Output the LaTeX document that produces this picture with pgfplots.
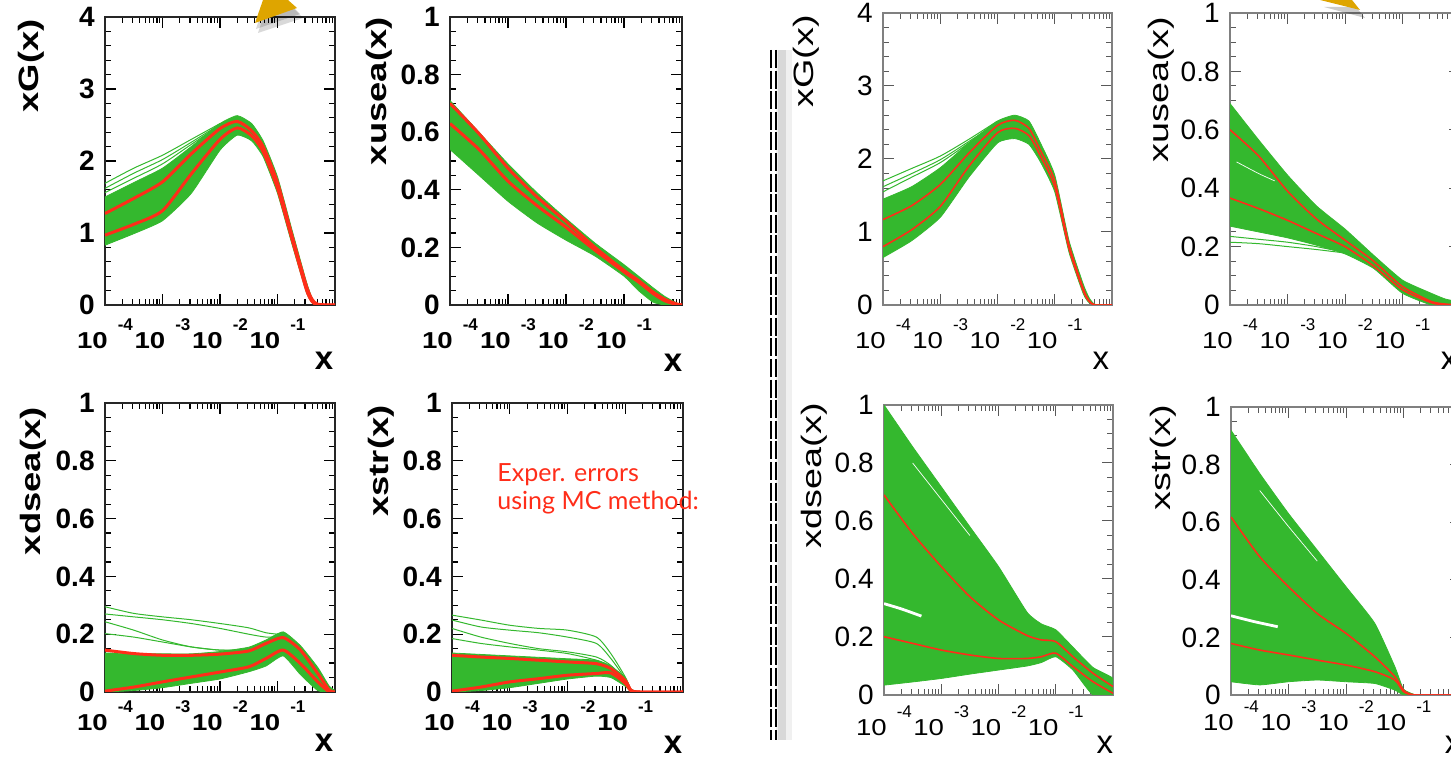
\documentclass[border=0pt]{standalone}
\usepackage{fontspec}
\setmainfont{Liberation Sans}
\newfontfamily\lato{Lato}
\usepackage{graphicx}
\usepackage{pgfplots}
\pgfplotsset{compat=1.18}
\usepackage{pgfplotstable}

\definecolor{mcgreen}{RGB}{52,184,46}
\definecolor{mcred}{RGB}{255,45,25}
\definecolor{gold}{RGB}{222,165,0}

% ROOT-like log tick label: big 10, exponent raised high
\newcommand\xl[1]{\scalebox{1.2}[1]{\fontsize{11.5}{11.5}\selectfont 10}\hspace{5pt}\raisebox{9pt}{\fontsize{8.5}{8.5}\selectfont #1}}

% ---- xG, left: band outline (top forward, bottom back), red curves, outliers
\pgfplotstableread{
x y
1e-4 1.50
3.162e-4 1.70
1e-3 1.90
3.162e-3 2.20
1e-2 2.52
1.995e-2 2.63
3.548e-2 2.52
5.623e-2 2.28
0.1 1.78
0.1778 1.05
0.3162 0.33
0.3981 0.10
0.5012 0.01
1 0
0.5012 0
0.3981 0.03
0.3162 0.18
0.1778 0.85
0.1 1.55
5.623e-2 2.06
3.548e-2 2.28
1.995e-2 2.36
1e-2 2.15
3.162e-3 1.55
1e-3 1.17
3.162e-4 0.99
1e-4 0.83
}\pA
\pgfplotstableread{
x ru rl
1e-4     1.27 0.97
3.162e-4 1.48 1.12
1e-3     1.71 1.31
3.162e-3 2.10 1.82
1e-2     2.45 2.30
1.995e-2 2.55 2.46
3.548e-2 2.42 2.35
5.623e-2 2.20 2.13
0.1      1.70 1.62
0.1778   0.97 0.92
0.3162   0.27 0.22
0.3981   0.08 0.05
0.5012   0.01 0.00
1        0 0
}\tA
\pgfplotstableread{
x a b c
1e-4     1.69 1.62 1.56
3.162e-4 1.90 1.83 1.76
1e-3     2.08 2.02 1.96
3.162e-3 2.30 2.26 2.23
1e-2     2.52 2.51 2.50
}\tAo
% ---- xusea, left
\pgfplotstableread{
x y
1e-4 0.71
3.162e-4 0.60
1e-3 0.49
3.162e-3 0.39
1e-2 0.30
3.162e-2 0.215
0.1 0.14
0.1778 0.10
0.3162 0.06
0.5012 0.03
0.7943 0.008
1 0
0.7943 0
0.5012 0
0.3162 0.01
0.1778 0.05
0.1 0.10
3.162e-2 0.17
1e-2 0.225
3.162e-3 0.285
1e-3 0.36
3.162e-4 0.45
1e-4 0.54
}\pB
\pgfplotstableread{
x ru rl
1e-4     0.70 0.63
3.162e-4 0.595 0.54
1e-3     0.475 0.43
3.162e-3 0.375 0.345
1e-2     0.29 0.27
3.162e-2 0.20 0.19
0.1      0.12 0.115
0.1778   0.085 0.08
0.3162   0.045 0.04
0.5012   0.02 0.015
0.7943   0.004 0.002
1        0 0
}\tB
% ---- xG, right
\pgfplotstableread{
x y
1e-4 1.45
3.162e-4 1.62
1e-3 1.88
3.162e-3 2.22
1e-2 2.52
1.995e-2 2.60
3.548e-2 2.52
5.623e-2 2.22
0.1 1.78
0.1778 0.88
0.3162 0.28
0.3981 0.10
0.5012 0.01
1 0
0.5012 0
0.3981 0.03
0.3162 0.15
0.1778 0.72
0.1 1.55
5.623e-2 1.96
3.548e-2 2.20
1.995e-2 2.28
1e-2 2.22
3.162e-3 1.75
1e-3 1.20
3.162e-4 0.88
1e-4 0.65
}\pC
\pgfplotstableread{
x ru rl
1e-4     1.17 0.80
3.162e-4 1.36 1.03
1e-3     1.65 1.35
3.162e-3 2.08 1.90
1e-2     2.46 2.36
1.995e-2 2.53 2.42
3.548e-2 2.42 2.32
5.623e-2 2.12 2.04
0.1      1.70 1.62
0.1778   0.82 0.77
0.3162   0.22 0.19
0.3981   0.06 0.05
0.5012   0 0
1        0 0
}\tC
\pgfplotstableread{
x a b c
1e-4     1.70 1.62 1.55
3.162e-4 1.87 1.80 1.75
1e-3     2.04 1.99 1.95
3.162e-3 2.27 2.24 2.22
1e-2     2.52 2.50 2.50
}\tCo
% ---- xusea, right
\pgfplotstableread{
x y
1e-4 0.69
3.162e-4 0.565
1e-3 0.445
3.162e-3 0.34
1e-2 0.26
3.162e-2 0.17
0.1 0.085
0.3162 0.04
0.5623 0.02
1 0.01
1 0
0.5623 0
0.3162 0
0.1 0.04
3.162e-2 0.125
1e-2 0.175
3.162e-3 0.205
1e-3 0.23
3.162e-4 0.25
1e-4 0.27
}\pD
\pgfplotstableread{
x ru rl
1e-4     0.60 0.366
3.162e-4 0.51 0.33
1e-3     0.39 0.29
3.162e-3 0.295 0.245
1e-2     0.222 0.20
3.162e-2 0.15 0.133
0.1      0.063 0.052
0.3162   0.012 0.008
0.5623   0.003 0
1        0 0
}\tD
\pgfplotstableread{
x a b
1e-4     0.235 0.215
3.162e-4 0.225 0.21
1e-3     0.215 0.20
3.162e-3 0.20 0.19
1e-2     0.18 0.178
}\tDo
\pgfplotstableread{
x w
1.3e-4   0.49
3.162e-4 0.45
6e-4     0.425
}\wD
% ---- xdsea, left
\pgfplotstableread{
x y
1e-4 0.135
3.162e-4 0.133
1e-3 0.132
3.162e-3 0.132
1e-2 0.14
3.162e-2 0.155
6.31e-2 0.18
0.1259 0.208
0.2512 0.16
0.5012 0.085
0.7943 0.02
1 0.005
1 0
0.7943 0
0.5012 0.005
0.2512 0.06
0.1259 0.125
6.31e-2 0.09
3.162e-2 0.07
1e-2 0.045
3.162e-3 0.03
1e-3 0.015
3.162e-4 0.005
1e-4 0
}\pE
\pgfplotstableread{
x ru rl
1e-4     0.145 0.003
3.162e-4 0.133 0.017
1e-3     0.127 0.035
3.162e-3 0.127 0.052
1e-2     0.131 0.069
3.162e-2 0.142 0.087
6.31e-2  0.168 0.116
0.1259   0.188 0.145
0.2512   0.145 0.098
0.5012   0.064 0.035
0.7943   0.006 0
1        0 0
}\tE
\pgfplotstableread{
x a b c d
1e-4     0.295 0.27 0.243 0.202
3.162e-4 0.272 0.26 0.214 0.19
1e-3     0.26 0.25 0.18 0.173
3.162e-3 0.25 0.237 0.156 0.156
1e-2     0.237 0.22 0.145 0.145
3.162e-2 0.222 0.20 0.148 0.145
6.31e-2  0.205 0.19 0.165 0.16
0.1259   0.198 0.19 0.185 0.185
}\tEo
% ---- xstr, left
\pgfplotstableread{
x y
1e-4 0.135
3.162e-4 0.13
1e-3 0.125
3.162e-3 0.12
1e-2 0.115
3.162e-2 0.11
5.623e-2 0.09
0.1 0.05
0.1259 0.01
0.1778 0
0.1259 0
0.1 0.02
5.623e-2 0.05
3.162e-2 0.055
1e-2 0.045
3.162e-3 0.03
1e-3 0.015
3.162e-4 0.005
1e-4 0
}\pF
\pgfplotstableread{
x ru rl
1e-4     0.127 0.003
3.162e-4 0.121 0.017
1e-3     0.116 0.035
3.162e-3 0.110 0.046
1e-2     0.104 0.058
3.162e-2 0.098 0.064
5.623e-2 0.081 0.066
0.1      0.04 0.03
0.1259   0.006 0.004
0.1778   0 0
1        0 0
}\tF
\pgfplotstableread{
x a b c d
1e-4     0.266 0.249 0.22 0.185
3.162e-4 0.249 0.225 0.19 0.168
1e-3     0.231 0.214 0.168 0.156
3.162e-3 0.22 0.205 0.15 0.145
1e-2     0.214 0.19 0.139 0.133
3.162e-2 0.19 0.168 0.121 0.11
5.623e-2 0.133 0.116 0.092 0.087
0.1      0.052 0.046 0.04 0.04
0.1259   0.006 0.006 0.006 0.006
}\tFo
% ---- xdsea, right
\pgfplotstableread{
x y
1e-4 1.0
3.162e-4 0.856
1e-3 0.718
3.162e-3 0.58
1e-2 0.443
3.162e-2 0.285
5.623e-2 0.245
0.1 0.225
0.1995 0.165
0.4467 0.095
1 0.057
1 0
0.4467 0
0.1995 0.086
0.1 0.132
5.623e-2 0.112
3.162e-2 0.10
1e-2 0.086
3.162e-3 0.072
1e-3 0.057
3.162e-4 0.045
1e-4 0.034
}\pG
\pgfplotstableread{
x ru rl
1e-4     0.69 0.201
3.162e-4 0.557 0.178
1e-3     0.443 0.155
3.162e-3 0.339 0.138
1e-2     0.259 0.126
3.162e-2 0.205 0.126
5.623e-2 0.19 0.132
0.1      0.184 0.144
0.1995   0.132 0.098
0.4467   0.075 0.046
1        0.029 0.006
}\tG
% white gaps between replicas
\pgfplotstableread{
x w
1e-4     0.315
2e-4     0.297
4.5e-4   0.272
}\wGa
\pgfplotstableread{
x v
3.162e-4 0.80
1e-3     0.675
3.162e-3 0.55
}\wGb
% ---- xstr, right
\pgfplotstableread{
x y
1e-4 0.919
3.162e-4 0.769
1e-3 0.63
3.162e-3 0.503
1e-2 0.376
3.162e-2 0.249
7.079e-2 0.098
0.1 0.02
0.1585 0
0.1 0
7.079e-2 0.017
3.162e-2 0.04
1e-2 0.046
3.162e-3 0.052
1e-3 0.046
3.162e-4 0.035
1e-4 0.046
}\pH
\pgfplotstableread{
x ru rl
1e-4     0.618 0.179
3.162e-4 0.48 0.156
1e-3     0.376 0.139
3.162e-3 0.283 0.121
1e-2     0.214 0.104
3.162e-2 0.133 0.081
7.079e-2 0.064 0.052
0.1      0.017 0.012
0.1585   0 0
1        0 0
}\tH
\pgfplotstableread{
x w
1e-4     0.275
2.5e-4   0.255
6.5e-4   0.237
}\wHa
\pgfplotstableread{
x v
3.162e-4 0.71
1e-3     0.585
3.162e-3 0.465
}\wHb

\tikzset{
  ylab/.style={rotate=90, anchor=south east, inner sep=0pt},
  xlab/.style={inner sep=0pt, anchor=center},
  gline/.style={mcgreen, line width=0.5pt, smooth, tension=0.4},
  gband/.style={fill=mcgreen, draw=mcgreen, line width=0.4pt, smooth, tension=0.3},
  gap/.style={white, smooth, tension=0.4},
}
\newcommand\reds[2]{%
  \addplot[mcred, line width=#2, smooth, tension=0.4] table[x=x,y=ru]{#1};
  \addplot[mcred, line width=#2, smooth, tension=0.4] table[x=x,y=rl]{#1};}

\begin{document}
\begin{tikzpicture}
\useasboundingbox (0,0) rectangle (725.5pt,379.5pt);

% ---------- left block ----------
\begin{axis}[at={(52.5pt,227pt)}, anchor=south west, scale only axis, width=115pt, height=144pt, clip mode=individual,
  xmode=log, xmin=1e-4, xmax=1, ymin=0, ymax=4,
  xtick={1e-4,1e-3,1e-2,1e-1}, xticklabels={\xl{-4},\xl{-3},\xl{-2},\xl{-1}},
  minor xtick={2e-4,3e-4,4e-4,5e-4,6e-4,7e-4,8e-4,9e-4,2e-3,3e-3,4e-3,5e-3,6e-3,7e-3,8e-3,9e-3,0.02,0.03,0.04,0.05,0.06,0.07,0.08,0.09,0.2,0.3,0.4,0.5,0.6,0.7,0.8,0.9},
  ytick={0,1,2,3,4}, yticklabels={0,1,2,3,4}, minor y tick num=4,
  major tick length=5.5pt, minor tick length=3pt,
  axis line style={black!85, line width=0.9pt}, tick style={black, line width=0.6pt},
  tick label style={font=\bfseries\fontsize{14}{14}\selectfont},
  xticklabel style={anchor=north, inner sep=0pt, yshift=-6.5pt},
  yticklabel style={anchor=east, inner sep=0pt, xshift=-5pt}]
\addplot[gband] table[x=x,y=y]{\pA};
\addplot[gline] table[x=x,y=a]{\tAo};
\addplot[gline] table[x=x,y=b]{\tAo};
\addplot[gline] table[x=x,y=c]{\tAo};
\reds{\tA}{1.5pt}
\node[xshift=-30pt, yshift=-1pt, ylab, font=\bfseries\fontsize{14}{14}\selectfont] at (rel axis cs:0,1) {\scalebox{1.3}[1]{xG(x)}};
\node[xshift=-5.5pt, yshift=-28pt, xlab, font=\bfseries\fontsize{16.5}{16.5}\selectfont] at (rel axis cs:1,0) {x};
\end{axis}

\begin{axis}[at={(225pt,227pt)}, anchor=south west, scale only axis, width=116pt, height=144pt, clip mode=individual,
  xmode=log, xmin=1e-4, xmax=1, ymin=0, ymax=1,
  xtick={1e-4,1e-3,1e-2,1e-1}, xticklabels={\xl{-4},\xl{-3},\xl{-2},\xl{-1}},
  minor xtick={2e-4,3e-4,4e-4,5e-4,6e-4,7e-4,8e-4,9e-4,2e-3,3e-3,4e-3,5e-3,6e-3,7e-3,8e-3,9e-3,0.02,0.03,0.04,0.05,0.06,0.07,0.08,0.09,0.2,0.3,0.4,0.5,0.6,0.7,0.8,0.9},
  ytick={0,0.2,0.4,0.6,0.8,1}, yticklabels={0,0.2,0.4,0.6,0.8,1}, minor y tick num=3,
  major tick length=5.5pt, minor tick length=3pt,
  axis line style={black!85, line width=0.9pt}, tick style={black, line width=0.6pt},
  tick label style={font=\bfseries\fontsize{14}{14}\selectfont},
  xticklabel style={anchor=north, inner sep=0pt, yshift=-6.5pt},
  yticklabel style={anchor=east, inner sep=0pt, xshift=-5pt}]
\addplot[gband] table[x=x,y=y]{\pB};
\reds{\tB}{1.5pt}
\node[xshift=-28.5pt, ylab, font=\bfseries\fontsize{14}{14}\selectfont] at (rel axis cs:0,1) {\scalebox{1.3}[1]{xusea(x)}};
\node[xshift=-4.5pt, yshift=-29pt, xlab, font=\bfseries\fontsize{16.5}{16.5}\selectfont] at (rel axis cs:1,0) {x};
\end{axis}

\begin{axis}[at={(52.5pt,33.5pt)}, anchor=south west, scale only axis, width=115pt, height=144.5pt, clip mode=individual,
  xmode=log, xmin=1e-4, xmax=1, ymin=0, ymax=1,
  xtick={1e-4,1e-3,1e-2,1e-1}, xticklabels={\xl{-4},\xl{-3},\xl{-2},\xl{-1}},
  minor xtick={2e-4,3e-4,4e-4,5e-4,6e-4,7e-4,8e-4,9e-4,2e-3,3e-3,4e-3,5e-3,6e-3,7e-3,8e-3,9e-3,0.02,0.03,0.04,0.05,0.06,0.07,0.08,0.09,0.2,0.3,0.4,0.5,0.6,0.7,0.8,0.9},
  ytick={0,0.2,0.4,0.6,0.8,1}, yticklabels={0,0.2,0.4,0.6,0.8,1}, minor y tick num=3,
  major tick length=5.5pt, minor tick length=3pt,
  axis line style={black!85, line width=0.9pt}, tick style={black, line width=0.6pt},
  tick label style={font=\bfseries\fontsize{14}{14}\selectfont},
  xticklabel style={anchor=north, inner sep=0pt, yshift=-4pt},
  yticklabel style={anchor=east, inner sep=0pt, xshift=-5pt}]
\addplot[gband] table[x=x,y=y]{\pE};
\addplot[gline] table[x=x,y=a]{\tEo};
\addplot[gline] table[x=x,y=b]{\tEo};
\addplot[gline] table[x=x,y=c]{\tEo};
\addplot[gline] table[x=x,y=d]{\tEo};
\reds{\tE}{1.5pt}
\node[xshift=-29pt, yshift=-2pt, ylab, font=\bfseries\fontsize{14}{14}\selectfont] at (rel axis cs:0,1) {\scalebox{1.3}[1]{xdsea(x)}};
\node[xshift=-5.5pt, yshift=-25.5pt, xlab, font=\bfseries\fontsize{16.5}{16.5}\selectfont] at (rel axis cs:1,0) {x};
\end{axis}

\begin{axis}[at={(226pt,33.5pt)}, anchor=south west, scale only axis, width=115.5pt, height=144.5pt, clip mode=individual,
  xmode=log, xmin=1e-4, xmax=1, ymin=0, ymax=1,
  xtick={1e-4,1e-3,1e-2,1e-1}, xticklabels={\xl{-4},\xl{-3},\xl{-2},\xl{-1}},
  minor xtick={2e-4,3e-4,4e-4,5e-4,6e-4,7e-4,8e-4,9e-4,2e-3,3e-3,4e-3,5e-3,6e-3,7e-3,8e-3,9e-3,0.02,0.03,0.04,0.05,0.06,0.07,0.08,0.09,0.2,0.3,0.4,0.5,0.6,0.7,0.8,0.9},
  ytick={0,0.2,0.4,0.6,0.8,1}, yticklabels={0,0.2,0.4,0.6,0.8,1}, minor y tick num=3,
  major tick length=5.5pt, minor tick length=3pt,
  axis line style={black!85, line width=0.9pt}, tick style={black, line width=0.6pt},
  tick label style={font=\bfseries\fontsize{14}{14}\selectfont},
  xticklabel style={anchor=north, inner sep=0pt, yshift=-4pt},
  yticklabel style={anchor=east, inner sep=0pt, xshift=-5pt}]
\addplot[gband] table[x=x,y=y]{\pF};
\addplot[gline] table[x=x,y=a]{\tFo};
\addplot[gline] table[x=x,y=b]{\tFo};
\addplot[gline] table[x=x,y=c]{\tFo};
\addplot[gline] table[x=x,y=d]{\tFo};
\reds{\tF}{1.5pt}
\node[xshift=-28.5pt, yshift=-1pt, ylab, font=\bfseries\fontsize{14}{14}\selectfont] at (rel axis cs:0,1) {\scalebox{1.3}[1]{xstr(x)}};
\node[xshift=-5pt, yshift=-26.5pt, xlab, font=\bfseries\fontsize{16.5}{16.5}\selectfont] at (rel axis cs:1,0) {x};
\end{axis}

% ---------- right block ----------
\begin{axis}[at={(441.5pt,227pt)}, anchor=south west, scale only axis, width=114.5pt, height=146pt, clip mode=individual,
  xmode=log, xmin=1e-4, xmax=1, ymin=0, ymax=4,
  xtick={1e-4,1e-3,1e-2,1e-1}, xticklabels={\xl{-4},\xl{-3},\xl{-2},\xl{-1}},
  minor xtick={2e-4,3e-4,4e-4,5e-4,6e-4,7e-4,8e-4,9e-4,2e-3,3e-3,4e-3,5e-3,6e-3,7e-3,8e-3,9e-3,0.02,0.03,0.04,0.05,0.06,0.07,0.08,0.09,0.2,0.3,0.4,0.5,0.6,0.7,0.8,0.9},
  ytick={0,1,2,3,4}, yticklabels={0,1,2,3,4}, minor y tick num=4,
  major tick length=5.5pt, minor tick length=3pt,
  axis line style={black!50, line width=0.8pt}, tick style={black!65, line width=0.5pt},
  tick label style={font=\fontsize{14}{14}\selectfont},
  xticklabel style={anchor=north, inner sep=0pt, yshift=-6.5pt},
  yticklabel style={anchor=east, inner sep=0pt, xshift=-5pt}]
\addplot[gband] table[x=x,y=y]{\pC};
\addplot[gline] table[x=x,y=a]{\tCo};
\addplot[gline] table[x=x,y=b]{\tCo};
\addplot[gline] table[x=x,y=c]{\tCo};
\reds{\tC}{0.8pt}
\node[xshift=-31.5pt, yshift=-1pt, ylab, font=\fontsize{14}{14}\selectfont] at (rel axis cs:0,1) {\scalebox{1.35}[1]{xG(x)}};
\node[xshift=-5.5pt, yshift=-28pt, xlab, font=\fontsize{16.5}{16.5}\selectfont] at (rel axis cs:1,0) {x};
\end{axis}

\begin{axis}[at={(615pt,227pt)}, anchor=south west, scale only axis, width=115pt, height=146pt, clip mode=individual,
  xmode=log, xmin=1e-4, xmax=1, ymin=0, ymax=1,
  xtick={1e-4,1e-3,1e-2,1e-1}, xticklabels={\xl{-4},\xl{-3},\xl{-2},\xl{-1}},
  minor xtick={2e-4,3e-4,4e-4,5e-4,6e-4,7e-4,8e-4,9e-4,2e-3,3e-3,4e-3,5e-3,6e-3,7e-3,8e-3,9e-3,0.02,0.03,0.04,0.05,0.06,0.07,0.08,0.09,0.2,0.3,0.4,0.5,0.6,0.7,0.8,0.9},
  ytick={0,0.2,0.4,0.6,0.8,1}, yticklabels={0,0.2,0.4,0.6,0.8,1}, minor y tick num=3,
  major tick length=5.5pt, minor tick length=3pt,
  axis line style={black!50, line width=0.8pt}, tick style={black!65, line width=0.5pt},
  tick label style={font=\fontsize{14}{14}\selectfont},
  xticklabel style={anchor=north, inner sep=0pt, yshift=-6.5pt},
  yticklabel style={anchor=east, inner sep=0pt, xshift=-5pt}]
\addplot[gband] table[x=x,y=y]{\pD};
\addplot[gap, line width=0.35pt] table[x=x,y=w]{\wD};
\addplot[gline] table[x=x,y=a]{\tDo};
\addplot[gline] table[x=x,y=b]{\tDo};
\reds{\tD}{0.8pt}
\node[xshift=-27.5pt, yshift=-2pt, ylab, font=\fontsize{14}{14}\selectfont] at (rel axis cs:0,1) {\scalebox{1.35}[1]{xusea(x)}};
\node[xshift=-5.5pt, yshift=-28pt, xlab, font=\fontsize{16.5}{16.5}\selectfont] at (rel axis cs:1,0) {x};
\end{axis}

\begin{axis}[at={(442pt,32pt)}, anchor=south west, scale only axis, width=114.5pt, height=145pt, clip mode=individual,
  xmode=log, xmin=1e-4, xmax=1, ymin=0, ymax=1,
  xtick={1e-4,1e-3,1e-2,1e-1}, xticklabels={\xl{-4},\xl{-3},\xl{-2},\xl{-1}},
  minor xtick={2e-4,3e-4,4e-4,5e-4,6e-4,7e-4,8e-4,9e-4,2e-3,3e-3,4e-3,5e-3,6e-3,7e-3,8e-3,9e-3,0.02,0.03,0.04,0.05,0.06,0.07,0.08,0.09,0.2,0.3,0.4,0.5,0.6,0.7,0.8,0.9},
  ytick={0,0.2,0.4,0.6,0.8,1}, yticklabels={0,0.2,0.4,0.6,0.8,1}, minor y tick num=3,
  major tick length=5.5pt, minor tick length=3pt,
  axis line style={black!50, line width=0.8pt}, tick style={black!65, line width=0.5pt},
  tick label style={font=\fontsize{14}{14}\selectfont},
  xticklabel style={anchor=north, inner sep=0pt, yshift=-5pt},
  yticklabel style={anchor=east, inner sep=0pt, xshift=-5pt}]
\addplot[gband] table[x=x,y=y]{\pG};
\addplot[gap, line width=1.4pt] table[x=x,y=w]{\wGa};
\addplot[gap, line width=0.35pt] table[x=x,y=v]{\wGb};
\reds{\tG}{0.8pt}
\node[xshift=-28pt, yshift=1pt, ylab, font=\fontsize{14}{14}\selectfont] at (rel axis cs:0,1) {\scalebox{1.35}[1]{xdsea(x)}};
\node[xshift=-4pt, yshift=-25pt, xlab, font=\fontsize{16.5}{16.5}\selectfont] at (rel axis cs:1,0) {x};
\end{axis}

\begin{axis}[at={(615.5pt,32pt)}, anchor=south west, scale only axis, width=115pt, height=144pt, clip mode=individual,
  xmode=log, xmin=1e-4, xmax=1, ymin=0, ymax=1,
  xtick={1e-4,1e-3,1e-2,1e-1}, xticklabels={\xl{-4},\xl{-3},\xl{-2},\xl{-1}},
  minor xtick={2e-4,3e-4,4e-4,5e-4,6e-4,7e-4,8e-4,9e-4,2e-3,3e-3,4e-3,5e-3,6e-3,7e-3,8e-3,9e-3,0.02,0.03,0.04,0.05,0.06,0.07,0.08,0.09,0.2,0.3,0.4,0.5,0.6,0.7,0.8,0.9},
  ytick={0,0.2,0.4,0.6,0.8,1}, yticklabels={0,0.2,0.4,0.6,0.8,1}, minor y tick num=3,
  major tick length=5.5pt, minor tick length=3pt,
  axis line style={black!50, line width=0.8pt}, tick style={black!65, line width=0.5pt},
  tick label style={font=\fontsize{14}{14}\selectfont},
  xticklabel style={anchor=north, inner sep=0pt, yshift=-2.5pt},
  yticklabel style={anchor=east, inner sep=0pt, xshift=-5pt}]
\addplot[gband] table[x=x,y=y]{\pH};
\addplot[gap, line width=1.4pt] table[x=x,y=w]{\wHa};
\addplot[gap, line width=0.35pt] table[x=x,y=v]{\wHb};
\reds{\tH}{0.8pt}
\node[xshift=-27pt, yshift=1pt, ylab, font=\fontsize{14}{14}\selectfont] at (rel axis cs:0,1) {\scalebox{1.35}[1]{xstr(x)}};
\node[xshift=-4pt, yshift=-25pt, xlab, font=\fontsize{16.5}{16.5}\selectfont] at (rel axis cs:1,0) {x};
\end{axis}

% ---------- annotations, divider, slide arrows (pixel units) ----------
\begin{scope}[x=0.5pt, y=0.5pt]
\node[anchor=base west, inner sep=0pt, text=mcred, font=\lato\fontsize{12.5}{14}\selectfont] at (497,277) {Exper. errors};
\node[anchor=base west, inner sep=0pt, text=mcred, font=\lato\fontsize{12.5}{14}\selectfont] at (497,249) {using MC method:};
\draw[black, opacity=0.06, line width=8pt] (784,709) -- (784,19);
\draw[black, opacity=0.10, line width=4pt] (782,709) -- (782,19);
\draw[black, line width=1pt, dash pattern=on 9pt off 1.3pt] (771,709) -- (771,19);
\draw[black, line width=1pt, dash pattern=on 9pt off 1.3pt] (776,709) -- (776,19);
\fill[black, opacity=0.15] (258,726) -- (266,750) -- (294,750) -- (303,741) -- cycle;
\fill[black, opacity=0.15] (256,730) -- (264,754) -- (291,754) -- (300,745) -- cycle;
\fill[gold] (255,736) -- (263,759) -- (288,759) -- (297,751) -- cycle;
\fill[black, opacity=0.2] (1324,752) -- (1356,752) -- (1365,741) -- cycle;
\fill[gold] (1320,759) -- (1352,759) -- (1360,749) -- cycle;
\end{scope}
\end{tikzpicture}
\end{document}
